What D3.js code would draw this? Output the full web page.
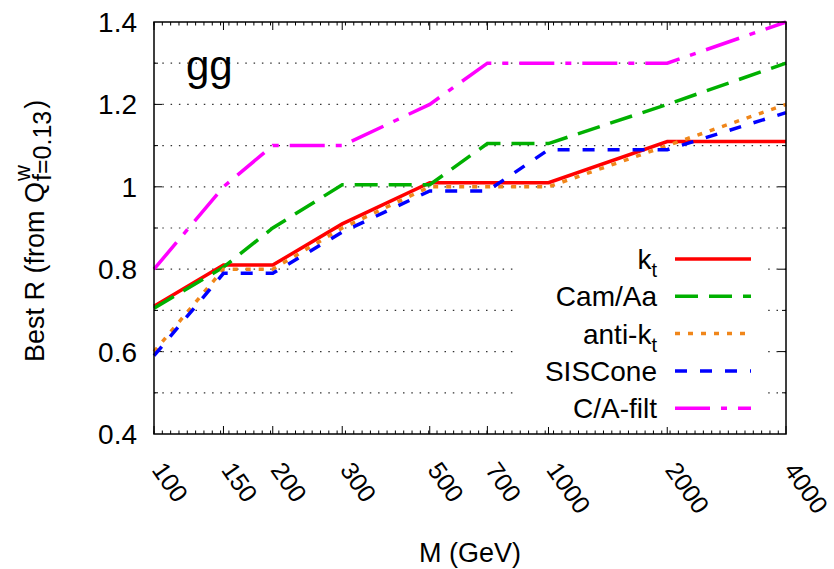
<!DOCTYPE html>
<html>
<head>
<meta charset="utf-8">
<script src="https://cdn.jsdelivr.net/npm/d3@7"></script>
<style>
  body { margin: 0; background: #fff; }
  text { font-family: "Liberation Sans", Arial, sans-serif; fill: #000; }
</style>
</head>
<body>
<svg id="chart" width="834" height="569"></svg>
<script>
// masses (GeV) and best R per algorithm
const masses = [100, 150, 200, 300, 500, 700, 1000, 2000, 4000];
const kt      = [0.71, 0.81, 0.81, 0.91, 1.01, 1.01, 1.01, 1.11, 1.11];
const camAa   = [0.705, 0.805, 0.90, 1.005, 1.005, 1.105, 1.105, 1.20, 1.30];
const antiKt  = [0.60, 0.80, 0.80, 0.90, 1.00, 1.00, 1.00, 1.10, 1.20];
const sisCone = [0.59, 0.79, 0.79, 0.89, 0.99, 0.99, 1.09, 1.09, 1.18];
const caFilt  = [0.80, 1.00, 1.10, 1.10, 1.20, 1.30, 1.30, 1.30, 1.40];

const xTicks = [100, 150, 200, 300, 500, 700, 1000, 2000, 4000];
const yTicks = [0.4, 0.6, 0.8, 1.0, 1.2, 1.4];
const yLabels = ["0.4", "0.6", "0.8", "1", "1.2", "1.4"];

const series = [
  {name: "k", sub: "t", values: kt,      color: "#ff0000", dash: null},
  {name: "Cam/Aa",      values: camAa,   color: "#00b000", dash: "23,11"},
  {name: "anti-k", sub: "t", values: antiKt, color: "#f0861a", dash: "5,8"},
  {name: "SISCone",     values: sisCone, color: "#0000ff", dash: "12,13"},
  {name: "C/A-filt",    values: caFilt,  color: "#ff00ff", dash: "35,11,6,11"}
];

const margin = {top: 22, right: 48, bottom: 135, left: 154};
const width = 834 - margin.left - margin.right,
  height = 569 - margin.top - margin.bottom;

const svg = d3.select("#chart");
const g = svg.append("g")
  .attr("transform", "translate(" + margin.left + "," + margin.top + ")");

const x = d3.scaleLog().domain([100, 4000]).range([0, width]);
const y = d3.scaleLinear().domain([0.4, 1.4]).range([height, 0]);

// dotted horizontal grid every 0.1
const gridVals = d3.range(5, 14).map(d => d / 10);
g.append("g").selectAll("line")
  .data(gridVals)
  .enter().append("line")
  .attr("x1", 0).attr("x2", width)
  .attr("y1", d => y(d)).attr("y2", d => y(d))
  .style("stroke", "#333")
  .style("stroke-width", 1.2)
  .style("stroke-dasharray", "1.5,6.8");

// minor x ticks, evenly spaced in log space
const lo = Math.log10(100), hi = Math.log10(4000);
const minorX = d3.range(lo, hi, 0.0211).map(v => Math.pow(10, v));
const ticks = g.append("g").style("stroke", "#000").style("stroke-width", 1);
minorX.forEach(v => {
  ticks.append("line").attr("x1", x(v)).attr("x2", x(v)).attr("y1", height).attr("y2", height - 3.5);
  ticks.append("line").attr("x1", x(v)).attr("x2", x(v)).attr("y1", 0).attr("y2", 3.5);
});
xTicks.forEach(v => {
  ticks.append("line").attr("x1", x(v)).attr("x2", x(v)).attr("y1", height).attr("y2", height - 8);
  ticks.append("line").attr("x1", x(v)).attr("x2", x(v)).attr("y1", 0).attr("y2", 8);
});
gridVals.forEach(v => {
  const major = Math.round(v * 10) % 2 === 0;
  const len = major ? 8 : 4;
  ticks.append("line").attr("x1", 0).attr("x2", len).attr("y1", y(v)).attr("y2", y(v));
  ticks.append("line").attr("x1", width).attr("x2", width - len).attr("y1", y(v)).attr("y2", y(v));
});

// y tick labels
g.append("g").selectAll("text")
  .data(yTicks)
  .enter().append("text")
  .attr("x", -17)
  .attr("y", d => y(d))
  .attr("dy", "0.36em")
  .attr("text-anchor", "end")
  .style("font-size", "28px")
  .text((d, i) => yLabels[i]);

// x tick labels, rotated
g.append("g").selectAll("text")
  .data(xTicks)
  .enter().append("text")
  .attr("transform", d => "translate(" + (x(d) - 3) + "," + (height + 36) + ") rotate(55)")
  .attr("text-anchor", "start")
  .style("font-size", "25px")
  .text(d => d);

// legend background (hides grid)
const legX = 675, legX2 = 751, legTextX = 657, legY0 = 259, legStep = 37.3;
svg.append("rect")
  .attr("x", 518).attr("y", 242).attr("width", 250).attr("height", 185)
  .style("fill", "#fff");

// data lines
const line = d3.line()
  .x((d, i) => x(masses[i]))
  .y(d => y(d));

series.forEach(s => {
  g.append("path")
    .datum(s.values)
    .attr("d", line)
    .style("fill", "none")
    .style("stroke", s.color)
    .style("stroke-width", 3.5)
    .style("stroke-dasharray", s.dash);
});

// border
g.append("rect")
  .attr("width", width).attr("height", height)
  .style("fill", "none")
  .style("stroke", "#000")
  .style("stroke-width", 1.5);

// legend
series.forEach((s, i) => {
  const ly = legY0 + i * legStep;
  const t = svg.append("text")
    .attr("x", legTextX)
    .attr("y", ly + 10)
    .attr("text-anchor", "end")
    .style("font-size", "28px");
  t.append("tspan").text(s.name);
  if (s.sub) {
    t.append("tspan").attr("dy", 8).style("font-size", "20px").text(s.sub);
  }
  svg.append("line")
    .attr("x1", legX).attr("x2", legX2)
    .attr("y1", ly).attr("y2", ly)
    .style("stroke", s.color)
    .style("stroke-width", 3.5)
    .style("stroke-dasharray", s.dash);
});

// "gg" label
svg.append("text")
  .attr("x", 186).attr("y", 80)
  .style("font-size", "42px")
  .text("gg");

// x title
svg.append("text")
  .attr("x", 470).attr("y", 562)
  .attr("text-anchor", "middle")
  .style("font-size", "27px")
  .text("M (GeV)");

// y title with super/subscript
const yt = svg.append("g").attr("transform", "translate(44,362) rotate(-90)");
const main = yt.append("text").attr("x", 0).attr("y", 0)
  .style("font-size", "27px").text("Best R (from Q");
const L = main.node().getComputedTextLength();
yt.append("text").attr("x", L + 1).attr("y", -14)
  .style("font-size", "22px").text("w");
const sub = yt.append("text").attr("x", L + 1).attr("y", 7)
  .style("font-size", "25px").text("f=0.13");
const L2 = sub.node().getComputedTextLength();
yt.append("text").attr("x", L + L2 + 3).attr("y", 0)
  .style("font-size", "27px").text(")");
</script>
</body>
</html>
